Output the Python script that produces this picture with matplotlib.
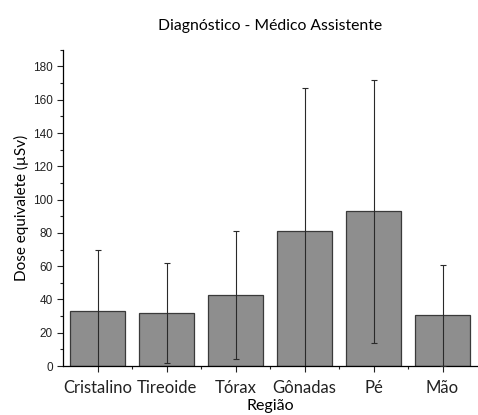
import numpy as np
import matplotlib
matplotlib.use("Agg")
import matplotlib.pyplot as plt
import matplotlib.ticker as ticker

# Data
regioes = ["Cristalino", "Tireoide", "Tórax", "Gônadas", "Pé", "Mão"]
dose = [33, 32, 42.5, 81, 93, 30.5]
desvio = [37, 30, 38.5, 86, 79, 30.5]
y_ticks = [0, 20, 40, 60, 80, 100, 120, 140, 160, 180]

fig = plt.figure(figsize=(4.78, 4.15), dpi=100)
ax = fig.add_axes([0.132, 0.118, 0.866, 0.762])

x = np.arange(len(regioes))
ax.bar(x, dose, width=0.8, color="#8e8e8e", edgecolor="#3a3a3a", linewidth=0.9, zorder=2)
ax.errorbar(x, dose, yerr=desvio, fmt="none", ecolor="#2a2a2a", elinewidth=0.8,
            capsize=2, capthick=0.8, zorder=3)

ax.set_xlim(-0.5, 5.5)
ax.set_ylim(0, 190)

ax.spines["top"].set_visible(False)
ax.spines["right"].set_visible(False)
ax.spines["left"].set_linewidth(0.9)
ax.spines["bottom"].set_linewidth(0.9)

ax.set_yticks(y_ticks)
ax.set_yticklabels([str(v) for v in y_ticks], fontfamily="Liberation Sans", fontsize=8.5,
                   color="#222222")
ax.yaxis.set_minor_locator(ticker.MultipleLocator(10))
ax.set_xticks(x)
ax.set_xticklabels(regioes, fontfamily="Lato", fontsize=12, color="#111111")
ax.xaxis.set_minor_locator(ticker.FixedLocator(x[:-1] + 0.5))
ax.tick_params(axis="both", which="major", direction="out", length=4, width=0.8, colors="#222222")
ax.tick_params(axis="both", which="minor", direction="out", length=2.5, width=0.8, colors="#222222")
ax.tick_params(axis="x", pad=6)

ax.set_ylabel("Dose equivalete (µSv)", fontfamily="Lato", fontsize=11, labelpad=3)
ax.set_xlabel("Região", fontfamily="Lato", fontsize=11.5, labelpad=2)
ax.set_title("Diagnóstico - Médico Assistente", fontfamily="Lato", fontsize=11.3, pad=14)

fig.savefig("out.png", dpi=100)
